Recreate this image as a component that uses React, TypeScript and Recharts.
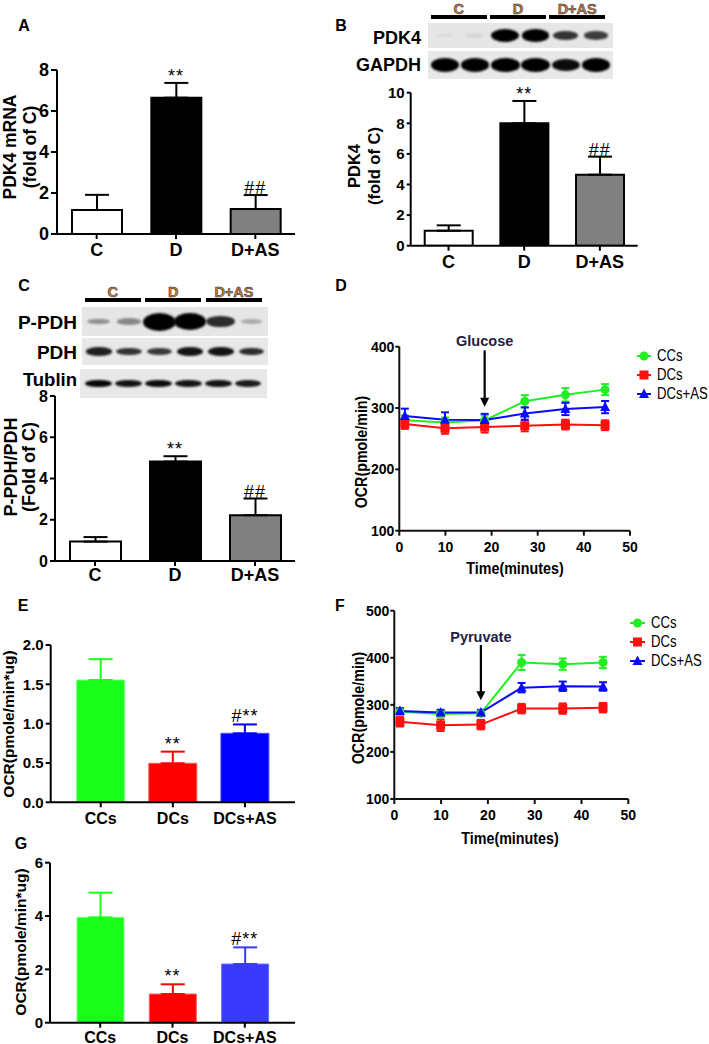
import React from 'react';
import {
  BarChart, Bar, XAxis, YAxis, ErrorBar, ReferenceDot, LineChart, Line, ReferenceLine,
} from 'recharts';

const SANS = "'Liberation Sans', Arial, Helvetica, sans-serif";

// ---------- data ----------
const groupsCD = ['C', 'D', 'D+AS'];
const cellGroups = ['CCs', 'DCs', 'DCs+AS'];

// A
const pdk4mRNA = [1.17, 6.65, 1.22];
const pdk4mRNAErr = [0.74, 0.72, 0.68];
const marksA = ['', '**', '##'];
const ticksA = [0, 2, 4, 6, 8];

// B
const pdk4Protein = [0.98, 8.0, 4.64];
const pdk4ProteinErr = [0.35, 1.46, 1.18];
const marksB = ['', '**', '##'];
const ticksB = [0, 2, 4, 6, 8, 10];
const blotPDK4 = [0.04, 0.06, 1, 0.95, 0.72, 0.68];
const blotGAPDH = [0.97, 0.92, 0.93, 0.96, 0.88, 0.94];

// C
const pPDHratio = [0.94, 4.82, 2.22];
const pPDHratioErr = [0.22, 0.26, 0.81];
const marksC = ['', '**', '##'];
const ticksC = [0, 2, 4, 6, 8];
const blotPPDH = [0.36, 0.38, 1, 0.95, 0.75, 0.24];
const blotPDH = [0.8, 0.72, 0.7, 0.85, 0.85, 0.75];
const blotTublin = [0.9, 0.85, 0.88, 0.85, 0.85, 0.82];

// E
const ocrE = [1.555, 0.496, 0.877];
const ocrEErr = [0.265, 0.148, 0.113];
const marksE = ['', '**', '#**'];
const ticksE = [0, 0.5, 1.0, 1.5, 2.0];

// G
const ocrG = [3.95, 1.075, 2.2];
const ocrGErr = [0.925, 0.365, 0.625];
const marksG = ['', '**', '#**'];
const ticksG = [0, 2, 4, 6];

// D & F time course
const timeMin = [1.2, 9.9, 18.5, 27.2, 36, 44.6];
const timeTicks = [0, 10, 20, 30, 40, 50];
const seriesNames = ['CCs', 'DCs', 'DCs+AS'];

const glucCCs = [280, 276.5, 280, 311, 321.5, 330];
const glucCCsErr = [8, 8, 8, 10, 11, 9];
const glucDCs = [274, 267, 269, 271, 273, 272];
const glucDCsErr = [8, 9, 9, 9, 8, 8];
const glucAS = [287, 281, 280.5, 291, 298.5, 301.5];
const glucASErr = [12, 12, 10, 10, 10, 10];
const ticksD = [100, 200, 300, 400];

const pyrCCs = [285.5, 280.5, 282, 390, 386.5, 390];
const pyrCCsErr = [8, 7, 6, 16, 12, 12];
const pyrDCs = [264, 256.5, 258, 292, 292, 294];
const pyrDCsErr = [10, 12, 10, 10, 11, 10];
const pyrAS = [287, 283.5, 283.5, 336.5, 339.5, 339];
const pyrASErr = [6, 6, 6, 10, 10, 9];
const ticksF = [100, 200, 300, 400, 500];

// annotation arrows: [x, labelY, lineTopY, tipY]
const glucoseArrow = [18.5, 409, 394, 302];
const pyruvateArrow = [18.5, 445, 427, 310];

// ---------- helpers ----------
function Txt({ x, y, children, size, weight = 'bold', family = SANS, anchor = 'center', color = '#000', sx = 1, style = {} }: any) {
  const tx = anchor === 'center' ? '-50%' : anchor === 'right' ? '-100%' : '0';
  const origin = anchor === 'center' ? 'center center' : anchor === 'right' ? 'right center' : 'left center';
  return (
    <div style={{
      position: 'absolute', left: x, top: y, transform: `translate(${tx},-50%) scaleX(${sx})`, transformOrigin: origin,
      whiteSpace: 'nowrap', fontFamily: family, fontSize: size, fontWeight: weight, lineHeight: 1, color, ...style,
    }}>{children}</div>
  );
}

function VLabel({ cx, cy, lines, size, lineHeight, sx = 1 }: any) {
  return (
    <div style={{
      position: 'absolute', left: cx, top: cy, transform: `translate(-50%,-50%) rotate(-90deg) scaleX(${sx})`,
      whiteSpace: 'nowrap', textAlign: 'center', fontFamily: SANS, fontSize: size, fontWeight: 'bold',
      lineHeight: `${lineHeight}px`, color: '#000',
    }}>
      {lines.map((l: string, i: number) => <div key={i}>{l}</div>)}
    </div>
  );
}

function Blot({ left, top, width, height, pad, bands, wRange, hRange, bg = '#e6e6e6', blur = 1.1 }: any) {
  const step = (width - 2 * pad) / (bands.length - 1);
  return (
    <div style={{ position: 'absolute', left, top, width, height, background: bg, overflow: 'hidden' }}>
      {bands.map((b: number, i: number) => {
        const w = wRange[0] + (wRange[1] - wRange[0]) * b;
        const h = hRange[0] + (hRange[1] - hRange[0]) * b * b;
        return (
          <div key={i} style={{
            position: 'absolute', left: pad + i * step - w / 2, top: height / 2 - h / 2, width: w, height: h,
            borderRadius: '50%', background: `rgba(0,0,0,${Math.min(1, 1.08 * b)})`, filter: `blur(${blur}px)`,
          }} />
        );
      })}
    </div>
  );
}

function GroupHeader({ left, pad, step, y, labels }: any) {
  return (
    <>
      {labels.map((lab: string, g: number) => {
        const x1 = left + pad + step * 2 * g - 14;
        const x2 = left + pad + step * (2 * g + 1) + 12;
        return (
          <React.Fragment key={g}>
            <div style={{ position: 'absolute', left: x1, top: y + 5, width: x2 - x1, height: 3.5, background: '#000' }} />
            <Txt x={(x1 + x2) / 2} y={y - 1.5} size={14.5} color="#c9802a"
              style={{ WebkitTextStroke: '0.5px #1c2552' }}>{lab}</Txt>
          </React.Fragment>
        );
      })}
    </>
  );
}

function BarPanel(p: any) {
  const cats: string[] = p.categories;
  const data = cats.map((c, i) => {
    const row: any = { name: c };
    cats.forEach((_, j) => {
      row[`v${j}`] = i === j ? p.values[i] : undefined;
      row[`e${j}`] = i === j ? [0, p.errors[i]] : undefined;
    });
    return row;
  });
  const tickFont = { fill: '#000', fontFamily: SANS, fontWeight: 'bold' };
  const yMax = p.ticks[p.ticks.length - 1];
  return (
    <div style={{ position: 'absolute', left: p.left, top: p.top }}>
      <BarChart width={p.width} height={p.height} data={data} margin={p.margin} barCategoryGap={0}>
        <XAxis dataKey="name" interval={0} height={p.xHeight} padding={{ left: p.pad, right: p.pad }}
          axisLine={{ stroke: '#000', strokeWidth: 2 }} tickLine={{ stroke: '#000', strokeWidth: 2 }}
          tickSize={5} tickMargin={p.xTickMargin} tick={{ ...tickFont, fontSize: p.xFont }} />
        <YAxis type="number" domain={[0, yMax]} ticks={p.ticks} interval={0} width={p.yWidth}
          allowDataOverflow axisLine={{ stroke: '#000', strokeWidth: 2 }} tickLine={{ stroke: '#000', strokeWidth: 2 }}
          tickSize={p.yTickSize} tickMargin={2} tick={{ ...tickFont, fontSize: p.yFont }}
          tickFormatter={p.yFormat} />
        {cats.map((c, j) => (
          <Bar key={c} dataKey={`v${j}`} stackId="s" barSize={p.barSize} fill={p.fills[j]}
            stroke={p.strokes[j]} strokeWidth={p.strokeWidth} isAnimationActive={false}>
            <ErrorBar dataKey={`e${j}`} width={12} stroke={p.errColors[j]} strokeWidth={2} direction="y" />
          </Bar>
        ))}
        {p.marks.map((m: string, i: number) => m ? (
          <ReferenceDot key={`m${i}`} x={cats[i]} y={p.values[i] + p.errors[i]} r={0} ifOverflow="visible"
            label={{ value: m, position: 'top', offset: p.markOffset, fill: '#000', fontSize: 18, fontFamily: SANS, letterSpacing: 1 }} />
        ) : null)}
      </BarChart>
    </div>
  );
}

const squareDot = (color: string) => (props: any) => {
  const { cx, cy, index } = props;
  if (cx == null || cy == null) return <g key={`sq${index}`} />;
  return <rect key={`sq${index}`} x={cx - 4.5} y={cy - 4.5} width={9} height={9} fill={color} />;
};
const triDot = (color: string) => (props: any) => {
  const { cx, cy, index } = props;
  if (cx == null || cy == null) return <g key={`tr${index}`} />;
  return <polygon key={`tr${index}`} points={`${cx},${cy - 5.5} ${cx + 5},${cy + 4} ${cx - 5},${cy + 4}`} fill={color} />;
};
const circleDot = (color: string) => (props: any) => {
  const { cx, cy, index } = props;
  if (cx == null || cy == null) return <g key={`ci${index}`} />;
  return <circle key={`ci${index}`} cx={cx} cy={cy} r={4.5} fill={color} />;
};

const lineColors = ['#22ee22', '#ff1010', '#0a0aff'];
const dotMakers = [circleDot, squareDot, triDot];

function LinePanel(p: any) {
  const data = timeMin.map((t, i) => ({
    t,
    s0: p.series[0][i], e0: p.errs[0][i],
    s1: p.series[1][i], e1: p.errs[1][i],
    s2: p.series[2][i], e2: p.errs[2][i],
  }));
  const tickFont = { fill: '#000', fontFamily: SANS, fontWeight: 'bold', fontSize: 14 };
  const [ax, labelY, lineTop, tipY] = p.arrow;
  const arrowHead = (props: any) => {
    const { cx, cy } = props;
    return <polygon points={`${cx},${cy} ${cx - 4.5},${cy - 9} ${cx + 4.5},${cy - 9}`} fill="#000" />;
  };
  const labelContent = (props: any) => {
    const vb = props.viewBox || {};
    const x = vb.x + (vb.width || 0) / 2;
    const y = vb.y + (vb.height || 0) / 2;
    return (
      <text x={x} y={y} dy="0.36em" textAnchor="middle" fill="#1d2140" fontFamily={SANS}
        fontWeight="bold" fontSize={14.5}>{p.arrowLabel}</text>
    );
  };
  return (
    <div style={{ position: 'absolute', left: p.left, top: p.top }}>
      <LineChart width={p.width} height={p.height} data={data} margin={p.margin}>
        <XAxis type="number" dataKey="t" domain={[0, 50]} ticks={timeTicks} interval={0} height={30}
          axisLine={{ stroke: '#111', strokeWidth: 2 }} tickLine={{ stroke: '#111', strokeWidth: 2 }}
          tickSize={5} tickMargin={6} tick={tickFont} />
        <YAxis type="number" domain={[100, p.ticks[p.ticks.length - 1]]} ticks={p.ticks} interval={0}
          width={p.yWidth} axisLine={{ stroke: '#111', strokeWidth: 2 }} tickLine={{ stroke: '#111', strokeWidth: 2 }}
          tickSize={4} tickMargin={1} tick={tickFont} />
        <ReferenceLine segment={[{ x: ax, y: lineTop }, { x: ax, y: tipY + 12 }]} stroke="#000" strokeWidth={2.2}
          ifOverflow="visible" />
        <ReferenceDot x={ax} y={tipY} r={5} ifOverflow="visible" shape={arrowHead} />
        <ReferenceDot x={ax} y={labelY} r={1} fill="none" stroke="none" ifOverflow="visible" label={labelContent} />
        {[0, 1, 2].map((k) => (
          <Line key={k} type="linear" dataKey={`s${k}`} stroke={lineColors[k]} strokeWidth={2}
            dot={dotMakers[k](lineColors[k])} activeDot={false} isAnimationActive={false}>
            <ErrorBar dataKey={`e${k}`} width={4} stroke={lineColors[k]} strokeWidth={2} direction="y" />
          </Line>
        ))}
      </LineChart>
    </div>
  );
}

function LineLegend({ left, top, gap, iconW }: any) {
  return (
    <>
      {seriesNames.map((n, k) => {
        const cy = top + k * gap;
        return (
          <React.Fragment key={n}>
            <svg style={{ position: 'absolute', left, top: cy - 6 }} width={iconW} height={12}>
              <line x1={0} y1={6} x2={iconW} y2={6} stroke={lineColors[k]} strokeWidth={2} />
              {k === 0 && <circle cx={iconW / 2} cy={6} r={4.5} fill={lineColors[k]} />}
              {k === 1 && <rect x={iconW / 2 - 4.5} y={1.5} width={9} height={9} fill={lineColors[k]} />}
              {k === 2 && <polygon points={`${iconW / 2},0.5 ${iconW / 2 + 5},10 ${iconW / 2 - 5},10`} fill={lineColors[k]} />}
            </svg>
            <Txt x={left + iconW + 6} y={cy} size={16} weight="normal" anchor="left" sx={0.82}>{n}</Txt>
          </React.Fragment>
        );
      })}
    </>
  );
}

export default function App() {
  const bwFills = ['#ffffff', '#000000', '#808080'];
  const bwStrokes = ['#000', '#000', '#000'];
  const bwErr = ['#000', '#000', '#000'];
  return (
    <div style={{ position: 'absolute', left: 0, top: 0, width: 709, height: 1044, background: '#fff', overflow: 'hidden' }}>
      {/* panel letters */}
      <Txt x={24} y={26} size={16}>A</Txt>
      <Txt x={341} y={26} size={16}>B</Txt>
      <Txt x={24} y={286} size={16}>C</Txt>
      <Txt x={341} y={286} size={16}>D</Txt>
      <Txt x={23} y={606} size={16}>E</Txt>
      <Txt x={340} y={606} size={16}>F</Txt>
      <Txt x={21} y={844} size={16}>G</Txt>

      {/* A */}
      <BarPanel left={0} top={0} width={360} height={290} margin={{ top: 70, right: 65, bottom: 26, left: 0 }}
        yWidth={57} xHeight={30} pad={0} categories={groupsCD} values={pdk4mRNA} errors={pdk4mRNAErr}
        marks={marksA} ticks={ticksA} fills={bwFills} strokes={bwStrokes} strokeWidth={2} errColors={bwErr}
        barSize={50} xFont={18} yFont={18} yTickSize={6} xTickMargin={4.5} markOffset={1} />
      <VLabel cx={19.5} cy={147} lines={['PDK4 mRNA', '(fold of C)']} size={17.5} lineHeight={20} />

      {/* B */}
      <GroupHeader left={428} pad={17} step={29.6} y={10} labels={groupsCD} />
      <Blot left={428} top={23} width={185} height={25} pad={17} bands={blotPDK4} wRange={[18, 28]} hRange={[4, 13]} />
      <Blot left={428} top={51} width={185} height={28} pad={17} bands={blotGAPDH} wRange={[22, 29]} hRange={[8, 14]} bg="#e9e9e9" />
      <Txt x={421} y={38} size={18} anchor="right">PDK4</Txt>
      <Txt x={421} y={65} size={18} anchor="right">GAPDH</Txt>
      <BarPanel left={360} top={0} width={349} height={290} margin={{ top: 92.7, right: 71.3, bottom: 14.3, left: 0 }}
        yWidth={50.7} xHeight={30} pad={0} categories={groupsCD} values={pdk4Protein} errors={pdk4ProteinErr}
        marks={marksB} ticks={ticksB} fills={bwFills} strokes={bwStrokes} strokeWidth={2} errColors={bwErr}
        barSize={48} xFont={18} yFont={15} yTickSize={4} xTickMargin={4.5} markOffset={1} />
      <VLabel cx={364} cy={166} lines={['PDK4', '(fold of C)']} size={16.5} lineHeight={20} />

      {/* C */}
      <GroupHeader left={82} pad={16.6} step={30.3} y={293} labels={groupsCD} />
      <Blot left={82} top={307} width={186} height={29} pad={16.6} bands={blotPPDH} wRange={[18, 33]} hRange={[4, 18]} />
      <Blot left={82} top={338} width={186} height={27} pad={16.6} bands={blotPDH} wRange={[22, 27]} hRange={[5, 10]} bg="#e8e8e8" />
      <Blot left={80} top={369} width={187} height={29} pad={18.6} bands={blotTublin} wRange={[22, 27]} hRange={[5, 8]} bg="#e8e8e8" />
      <Txt x={77} y={322} size={19} anchor="right">P-PDH</Txt>
      <Txt x={77} y={352} size={19} anchor="right">PDH</Txt>
      <Txt x={77} y={380} size={18.5} anchor="right">Tublin</Txt>
      <BarPanel left={0} top={290} width={360} height={310} margin={{ top: 106, right: 65, bottom: 9, left: 0 }}
        yWidth={55} xHeight={30} pad={0} categories={groupsCD} values={pPDHratio} errors={pPDHratioErr}
        marks={marksC} ticks={ticksC} fills={bwFills} strokes={bwStrokes} strokeWidth={2} errColors={bwErr}
        barSize={51} xFont={18} yFont={16} yTickSize={5} xTickMargin={2.5} markOffset={1} />
      <VLabel cx={20} cy={467} lines={['P-PDH/PDH', '(Fold of C)']} size={18} lineHeight={18} />

      {/* D */}
      <LinePanel left={360} top={290} width={349} height={300} margin={{ top: 56.7, right: 79, bottom: 29.3, left: 0 }}
        yWidth={39.3} ticks={ticksD} series={[glucCCs, glucDCs, glucAS]} errs={[glucCCsErr, glucDCsErr, glucASErr]}
        arrow={glucoseArrow} arrowLabel="Glucose" />
      <LineLegend left={637} top={356} gap={19} iconW={14} />
      <Txt x={515} y={568} size={17} sx={0.84}>Time(minutes)</Txt>
      <VLabel cx={362} cy={452} lines={['OCR(pmole/min)']} size={17} lineHeight={18} sx={0.84} />

      {/* E */}
      <BarPanel left={0} top={580} width={360} height={260} margin={{ top: 65, right: 65, bottom: 7.7, left: 0 }}
        yWidth={50.7} xHeight={30} pad={14} categories={cellGroups} values={ocrE} errors={ocrEErr}
        marks={marksE} ticks={ticksE} fills={['#1aff1a', '#ff0000', '#0000ff']} strokes={['#7dff7d', '#ff5a5a', '#4a4aff']}
        strokeWidth={1} errColors={['#1aff1a', '#ff0000', '#0000ff']}
        barSize={48} xFont={16} yFont={15} yTickSize={5} xTickMargin={5} markOffset={2}
        yFormat={(v: number) => v.toFixed(1)} />
      <VLabel cx={9} cy={724} lines={['OCR(pmole/min*ug)']} size={15.5} lineHeight={18} />

      {/* F */}
      <LinePanel left={360} top={590} width={349} height={270} margin={{ top: 20.7, right: 80.7, bottom: 31, left: 0 }}
        yWidth={34.3} ticks={ticksF} series={[pyrCCs, pyrDCs, pyrAS]} errs={[pyrCCsErr, pyrDCsErr, pyrASErr]}
        arrow={pyruvateArrow} arrowLabel="Pyruvate" />
      <LineLegend left={630} top={623} gap={19} iconW={15} />
      <Txt x={510} y={838} size={17} sx={0.84}>Time(minutes)</Txt>
      <VLabel cx={359} cy={708} lines={['OCR(pmole/min)']} size={17} lineHeight={18} sx={0.84} />

      {/* G */}
      <BarPanel left={0} top={840} width={360} height={204} margin={{ top: 22.7, right: 65, bottom: 1.3, left: 0 }}
        yWidth={50} xHeight={20} pad={14} categories={cellGroups} values={ocrG} errors={ocrGErr}
        marks={marksG} ticks={ticksG} fills={['#1aff1a', '#ff0000', '#3a3aff']} strokes={['#7dff7d', '#ff5a5a', '#6a6aff']}
        strokeWidth={1} errColors={['#1aff1a', '#ff0000', '#3a3aff']}
        barSize={47} xFont={16} yFont={15} yTickSize={5} xTickMargin={3.5} markOffset={2} />
      <VLabel cx={21} cy={942} lines={['OCR(pmole/min*ug)']} size={15.5} lineHeight={18} />
    </div>
  );
}
